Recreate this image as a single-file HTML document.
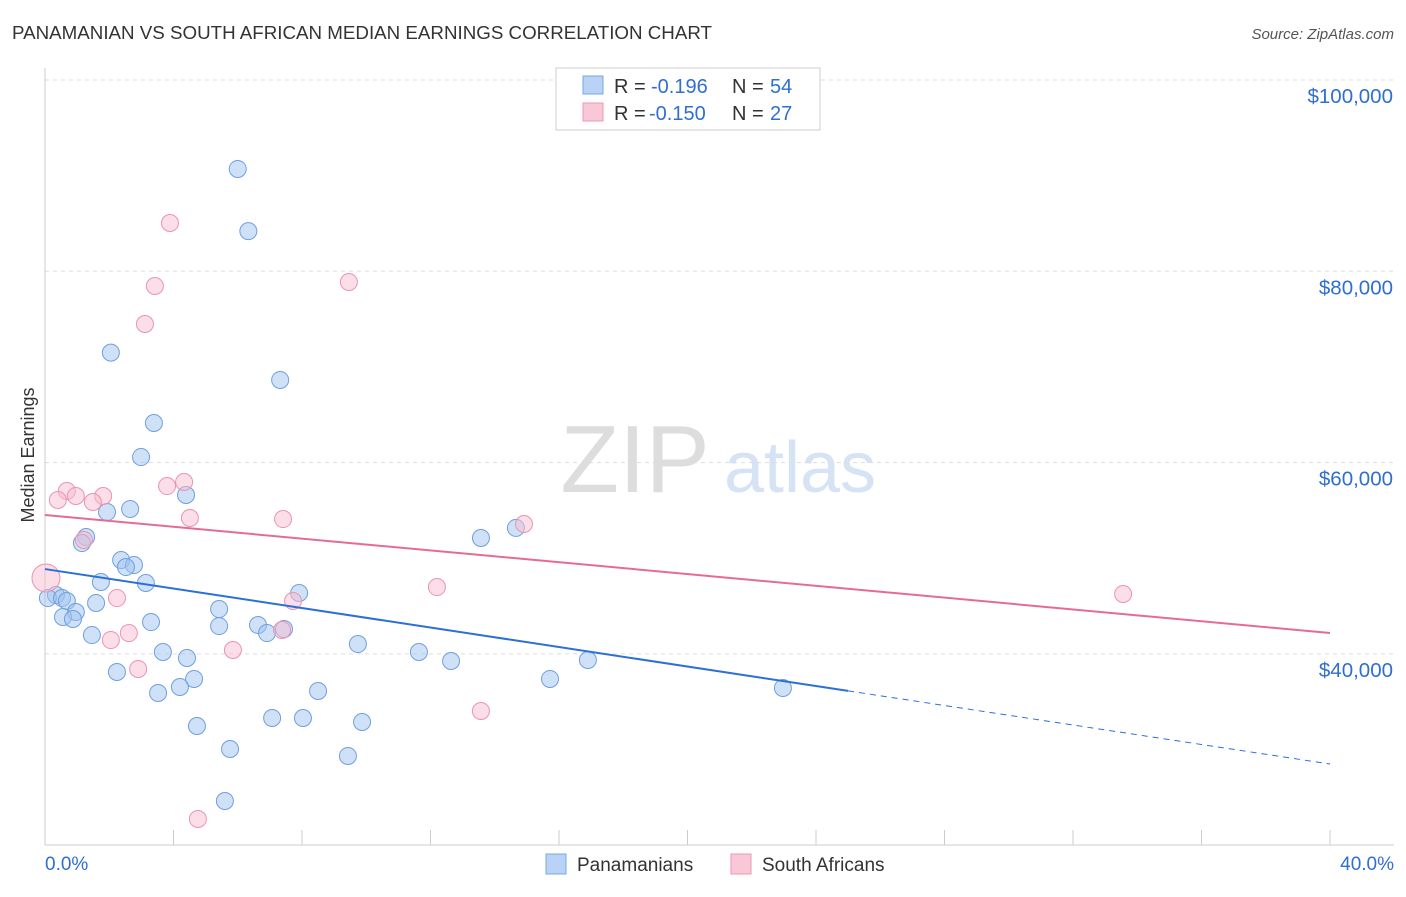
<!DOCTYPE html>
<html><head><meta charset="utf-8"><style>
body{margin:0;background:#fff;font-family:"Liberation Sans",sans-serif;}
svg text{font-family:"Liberation Sans",sans-serif;}
</style></head><body>
<svg id="c" width="1406" height="892" viewBox="0 0 1406 892">
<text x="12" y="39" font-size="18" fill="#333" textLength="700" lengthAdjust="spacingAndGlyphs">PANAMANIAN VS SOUTH AFRICAN MEDIAN EARNINGS CORRELATION CHART</text>
<text x="1394" y="39" font-size="15" fill="#555" font-style="italic" text-anchor="end">Source: ZipAtlas.com</text>
<text x="635" y="492" font-size="96" fill="#ddd" font-family="Liberation Serif" text-anchor="middle">ZIP</text>
<text x="800" y="492" font-size="72" fill="#d6e3f5" text-anchor="middle">atlas</text>
<g id="grid"></g><g id="axes"></g><g id="pts"></g><g id="trend"></g>
<text x="34" y="455" font-size="18" fill="#333" text-anchor="middle" transform="rotate(-90 34 455)">Median Earnings</text>
<g>
<rect x="556" y="68" width="264" height="62" fill="#fff" stroke="#ccc"/>
<rect x="583" y="76" width="20" height="18" fill="#b8d3f5" stroke="#7aa7e0"/>
<rect x="583" y="103" width="20" height="18" fill="#f9c8d6" stroke="#eb99b2"/>
<text x="614" y="93" font-size="20" fill="#333">R =</text>
<text x="651" y="93" font-size="20" fill="#2f6fd0">-0.196</text>
<text x="732" y="93" font-size="20" fill="#333">N =</text>
<text x="770" y="93" font-size="20" fill="#2f6fd0">54</text>
<text x="614" y="120" font-size="20" fill="#333">R =</text>
<text x="649" y="120" font-size="20" fill="#2f6fd0">-0.150</text>
<text x="732" y="120" font-size="20" fill="#333">N =</text>
<text x="770" y="120" font-size="20" fill="#2f6fd0">27</text>
</g>
<g>
<rect x="546" y="854" width="20" height="20" fill="#b8d3f5" stroke="#7aa7e0"/>
<text x="577" y="871" font-size="19" fill="#333">Panamanians</text>
<rect x="731" y="854" width="20" height="20" fill="#f9c8d6" stroke="#eb99b2"/>
<text x="762" y="871" font-size="19" fill="#333">South Africans</text>
</g>
</svg>
<script>
const yTicks=[40000,60000,80000,100000];
const yTickLabels=["$40,000","$60,000","$80,000","$100,000"];
const xTickLabels=["0.0%","40.0%"];
const blueX=[6.0,6.33,2.05,7.32,3.39,2.99,4.39,1.93,2.65,1.28,1.15,2.37,2.77,2.52,1.74,3.14,0.34,0.09,0.53,0.68,1.59,7.91,5.42,0.96,0.56,0.87,3.30,5.42,6.63,7.44,6.91,1.46,9.74,3.67,4.42,11.64,12.64,16.90,2.24,4.64,4.20,3.52,8.50,15.72,22.97,7.07,8.03,4.73,9.87,5.76,9.43,5.60,13.57,14.66];
const blueY=[90700,84200,71500,68640,64140,60580,56610,54830,55150,52220,51590,49820,49290,49080,47520,47410,46160,45840,45840,45530,45320,46370,44690,44380,43860,43650,43330,42910,43020,42600,42180,41970,41030,40200,39570,40200,39260,39360,38110,37380,36540,35910,36120,37380,36440,33300,33300,32460,32880,30060,29330,24620,52120,53170];
const pinkX=[3.89,3.42,9.46,3.11,4.33,3.80,0.68,1.81,0.40,0.96,1.49,4.51,7.41,14.91,1.21,0.03,12.20,33.56,2.24,7.72,2.61,2.05,5.85,2.90,13.57,4.76,7.38];
const pinkY=[85050,78460,78880,74490,57970,57550,57030,56510,56090,56510,55880,54210,54100,53580,51910,47940,46990,46260,45840,45530,42180,41450,40410,38420,34030,22740,42500];
const blueTrend=[48870,28490], pinkTrend=[54520,42180];
const X=v=>45+v/40*1285, Y=v=>80+(100000-v)/20000*191.3;
const NS="http://www.w3.org/2000/svg";
function mk(t,a,p){const e=document.createElementNS(NS,t);for(const k in a)e.setAttribute(k,a[k]);document.getElementById(p).appendChild(e);return e;}
yTicks.forEach((v,i)=>{
 const l=mk('line',{x1:45,x2:1394,y1:Y(v),y2:Y(v),stroke:'#ddd','stroke-dasharray':'4,4'},'grid');
 
 
 const t=mk('text',{x:1393,y:Y(v)+23,'font-size':20.5,fill:'#2f6fd0','text-anchor':'end'},'grid');t.textContent=yTickLabels[i];
 
 
});
const ax=mk('line',{x1:45,x2:45,y1:68,y2:845,stroke:'#ccc'},'axes');


const bx=mk('line',{x1:45,x2:1394,y1:845,y2:845,stroke:'#ccc'},'axes');


for(let i=0;i<=10;i++){const t=mk('line',{x1:X(i*4),x2:X(i*4),y1:830,y2:845,stroke:'#ccc'},'axes');
 
 }
[[0,45,'start'],[1,1394,'end']].forEach(([i,x,a])=>{const t=mk('text',{x:x,y:870,'font-size':19,fill:'#2f6fd0','text-anchor':a},'axes');t.textContent=xTickLabels[i];
 
 });
blueX.forEach((v,i)=>{const c=mk('circle',{cx:X(v),cy:Y(blueY[i]),r:8.5,fill:'rgba(160,195,240,0.5)',stroke:'#6f9fe0','stroke-width':1},'pts');
 
 });
pinkX.forEach((v,i)=>{const c=mk('circle',{cx:X(v),cy:Y(pinkY[i]),r:i==15?14:8.5,fill:'rgba(248,190,208,0.5)',stroke:'#eb94b0','stroke-width':1},'pts');
 
 });
const bf=v=>blueTrend[0]+(blueTrend[1]-blueTrend[0])*v/40;
let l1=mk('line',{x1:X(0),y1:Y(bf(0)),x2:X(25),y2:Y(bf(25)),stroke:'#2b6fd8','stroke-width':2},'trend');


let l2=mk('line',{x1:X(25),y1:Y(bf(25)),x2:X(40),y2:Y(bf(40)),stroke:'#2b6fd8','stroke-width':1,'stroke-dasharray':'6,5'},'trend');


let l3=mk('line',{x1:X(0),y1:Y(pinkTrend[0]),x2:X(40),y2:Y(pinkTrend[1]),stroke:'#e66b94','stroke-width':2},'trend');


</script>
</body></html>
